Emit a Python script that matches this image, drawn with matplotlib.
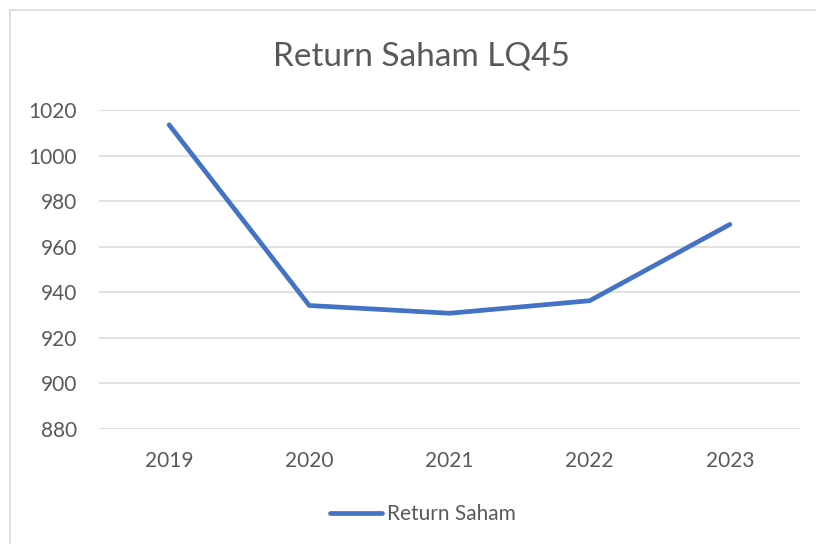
import matplotlib
matplotlib.use("Agg")
import matplotlib.pyplot as plt
from matplotlib.lines import Line2D

years = ["2019", "2020", "2021", "2022", "2023"]
returns = [1013.5, 934.2, 930.8, 936.3, 969.8]
yticks = [880, 900, 920, 940, 960, 980, 1000, 1020]

plt.rcParams['font.family'] = ['Lato', 'DejaVu Sans']
text_col = '#595959'
grid_col = '#d9d9d9'

fig = plt.figure(figsize=(8.16, 5.44), dpi=100)

# chart frame (Excel style): only top and left edges show, rest runs off the image
fx, fy = 10 / 816, 1 - 10 / 544
fig.add_artist(Line2D([fx, 1.0], [fy, fy], transform=fig.transFigure,
                      color=grid_col, linewidth=1.2))
fig.add_artist(Line2D([fx, fx], [0.0, fy], transform=fig.transFigure,
                      color=grid_col, linewidth=1.2))

ax = fig.add_axes([99 / 816, 1 - 429 / 544, (800 - 99) / 816, (429 - 110) / 544])
x = range(len(years))
ax.plot(x, returns, color='#4472C4', linewidth=3.4, solid_capstyle='round',
        solid_joinstyle='round', label='Return Saham', zorder=3)

ax.set_xlim(-0.5, len(years) - 0.5)
ax.set_ylim(880, 1020)
ax.set_yticks(yticks)
ax.set_xticks(list(x))
ax.set_xticklabels(years)
ax.grid(axis='y', color=grid_col, linewidth=1.1)
ax.set_axisbelow(True)
for s in ax.spines.values():
    s.set_visible(False)
ax.tick_params(length=0, labelsize=15, colors=text_col)
ax.tick_params(axis='y', pad=16)
ax.tick_params(axis='x', pad=16)

fig.text(421 / 816, 1 - 57 / 544, 'Return Saham LQ45', ha='center', va='center',
         fontsize=24, color=text_col)

leg = ax.legend(loc='center', bbox_to_anchor=(423 / 816, 1 - 514 / 544),
                bbox_transform=fig.transFigure, frameon=False, fontsize=15,
                handlelength=2.5, handletextpad=0.25)
for t in leg.get_texts():
    t.set_color(text_col)

fig.savefig('out.png', dpi=100)
